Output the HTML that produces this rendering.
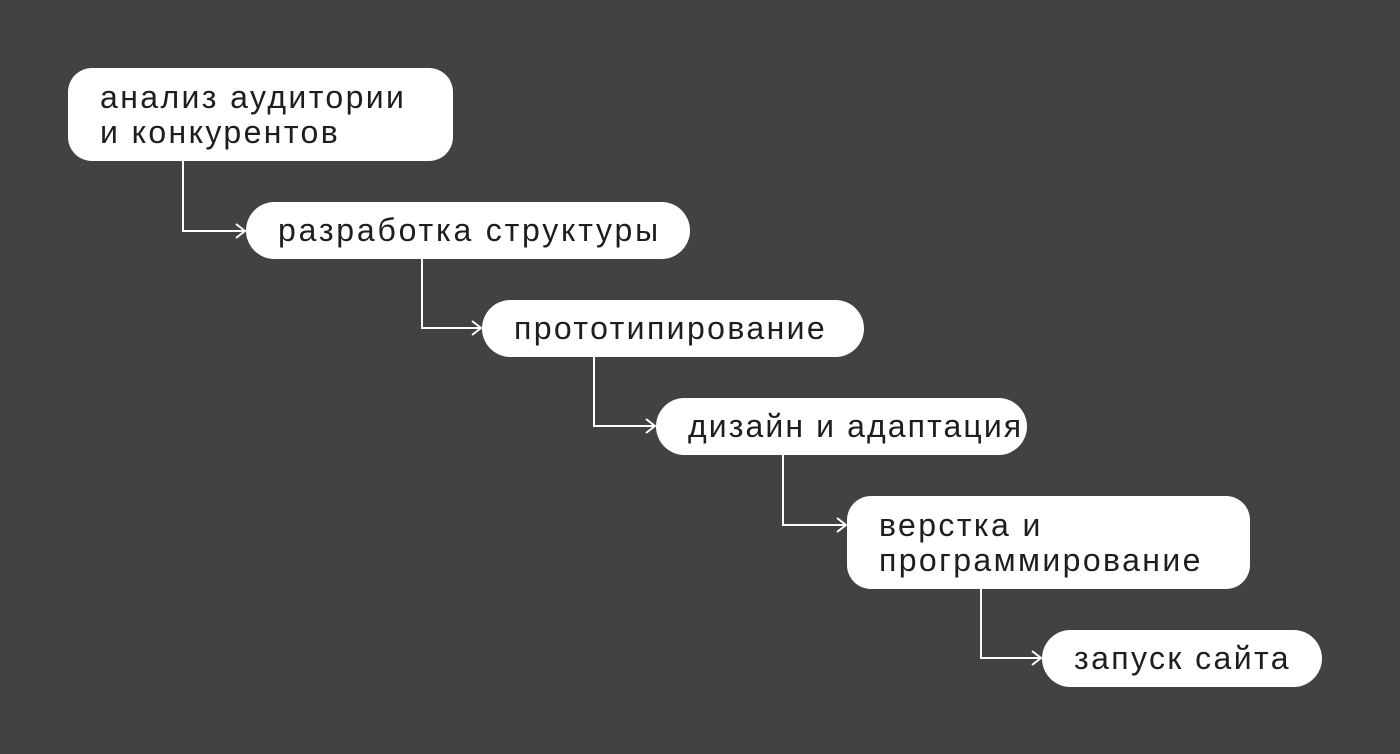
<!DOCTYPE html>
<html><head><meta charset="utf-8"><style>
html,body{margin:0;padding:0}
body{width:1400px;height:754px;background:#424242;position:relative;overflow:hidden;font-family:"Liberation Sans","DejaVu Sans",sans-serif}
.b{position:absolute;background:#fff;color:#1e1e1e;font-size:32px;line-height:35px;box-sizing:border-box;padding-left:32px;display:flex;align-items:center;letter-spacing:2.4px;white-space:nowrap}
svg{position:absolute;left:0;top:0}
</style></head><body>
<svg width="1400" height="754" fill="none" stroke="#fff" stroke-width="2">
<path d="M183 161V231H245M236 224L245 231L236 238"/>
<path d="M422 259V328H481M472 321L481 328L472 335"/>
<path d="M594 357V426H655M646 419L655 426L646 433"/>
<path d="M783 455V525H846M837 518L846 525L837 532"/>
<path d="M981 589V658H1041M1032 651L1041 658L1032 665"/>
</svg>
<div class="b" style="left:68px;top:68px;width:385px;height:93px;border-radius:24px">анализ аудитории<br>и конкурентов</div>
<div class="b" style="left:246px;top:202px;width:444px;height:57px;border-radius:29px;letter-spacing:2.8px">разработка структуры</div>
<div class="b" style="left:482px;top:300px;width:382px;height:57px;border-radius:29px">прототипирование</div>
<div class="b" style="left:656px;top:398px;width:371px;height:57px;border-radius:29px;letter-spacing:2.1px">дизайн и адаптация</div>
<div class="b" style="left:847px;top:496px;width:403px;height:93px;border-radius:24px">верстка и<br>программирование</div>
<div class="b" style="left:1042px;top:630px;width:280px;height:57px;border-radius:29px">запуск сайта</div>
</body></html>
